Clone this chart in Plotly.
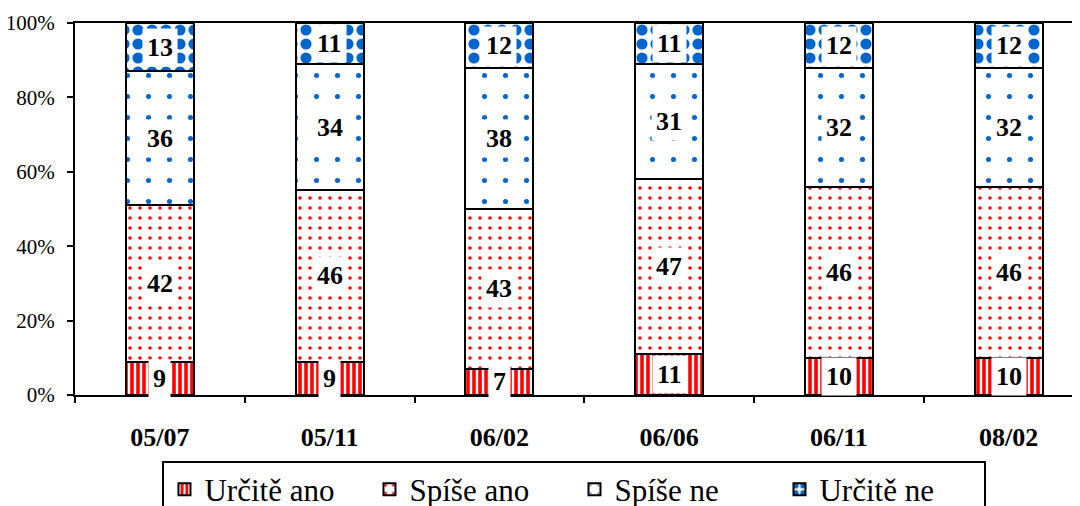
import plotly.graph_objects as go

categories = ["05/07", "05/11", "06/02", "06/06", "06/11", "08/02"]
urcite_ano = [9, 9, 7, 11, 10, 10]
spise_ano = [42, 46, 43, 47, 46, 46]
spise_ne = [36, 34, 38, 31, 32, 32]
urcite_ne = [13, 11, 12, 11, 12, 12]
y_ticks = [0, 20, 40, 60, 80, 100]
y_tick_labels = ["0%", "20%", "40%", "60%", "80%", "100%"]

series = [
    ("Určitě ano", urcite_ano, dict(shape="|", fgcolor="#FF0000", bgcolor="white", size=6, solidity=0.6, fgopacity=1)),
    ("Spíše ano", spise_ano, dict(shape=".", fgcolor="#FF0000", bgcolor="white", size=10, solidity=0.1, fgopacity=1)),
    ("Spíše ne", spise_ne, dict(shape=".", fgcolor="#0066CC", bgcolor="white", size=21, solidity=0.045, fgopacity=1)),
    ("Určitě ne", urcite_ne, dict(shape=".", fgcolor="#0066CC", bgcolor="white", size=14, solidity=0.5, fgopacity=1)),
]

FONT = "Times New Roman, Liberation Serif, serif"
fig = go.Figure()
annotations = []
cum = [0] * len(categories)
for name, vals, pat in series:
    fig.add_trace(go.Bar(
        name=name, x=categories, y=vals,
        marker=dict(color=pat["fgcolor"], pattern=pat,
                    line=dict(color="black", width=2)),
        hoverinfo="skip",
    ))
    for j, v in enumerate(vals):
        annotations.append(dict(
            x=categories[j], y=cum[j] + v / 2, xref="x", yref="y",
            text="<b>%d</b>" % v, showarrow=False,
            font=dict(family=FONT, size=26, color="black"),
            bgcolor="white", borderpad=4,
        ))
        cum[j] += v

fig.update_layout(
    barmode="stack", bargap=0.6,
    width=1072, height=498,
    margin=dict(l=67, r=0, t=15, b=111, autoexpand=False),
    plot_bgcolor="white", paper_bgcolor="white",
    font=dict(family=FONT, color="black"),
    annotations=annotations,
    showlegend=True,
    legend=dict(
        orientation="h", x=0.497, xanchor="center",
        yref="container", y=0.091, yanchor="top",
        bordercolor="black", borderwidth=2, bgcolor="white",
        font=dict(family=FONT, size=31, color="black"),
        traceorder="normal", entrywidth=160,
    ),
    xaxis=dict(
        range=[-0.5, 5.42], showline=True, linecolor="black", linewidth=2,
        mirror=True, ticks="outside", tickson="boundaries", ticklen=6,
        tickwidth=2, tickcolor="black", showgrid=False, automargin=False,
        tickfont=dict(family=FONT, size=26, color="black", weight="bold"),
        ticklabelstandoff=18,
    ),
    yaxis=dict(
        range=[0, 100], tickvals=y_ticks, ticktext=y_tick_labels,
        showline=True, linecolor="black", linewidth=2, ticks="outside",
        ticklen=6, tickwidth=2, tickcolor="black", showgrid=False,
        zeroline=False, automargin=False,
        tickfont=dict(family=FONT, size=21, color="black"),
        ticklabelstandoff=8,
    ),
)

fig.write_html("out.html")
